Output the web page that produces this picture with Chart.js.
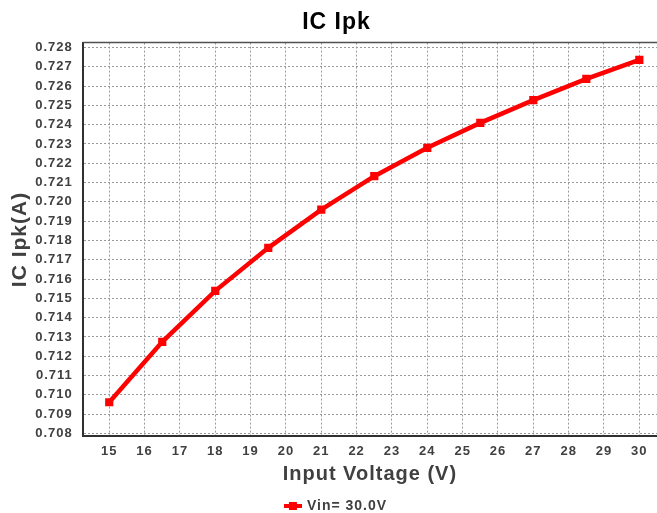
<!DOCTYPE html>
<html>
<head>
<meta charset="utf-8">
<script src="https://cdn.jsdelivr.net/npm/chart.js@4/dist/chart.umd.min.js"></script>
<style>
  html, body { margin: 0; padding: 0; background: #fff; }
  #wrap { width: 657px; height: 513px; }
</style>
</head>
<body>
<div id="wrap"><canvas id="c" width="657" height="513"></canvas></div>
<script>
// values
const inputVoltage = [15, 16.5, 18, 19.5, 21, 22.5, 24, 25.5, 27, 28.5, 30];
const icIpk = [0.70962, 0.71275, 0.71539, 0.71762, 0.71960, 0.72133, 0.72280, 0.72409, 0.72527, 0.72637, 0.72735];
const xTicks = [15, 16, 17, 18, 19, 20, 21, 22, 23, 24, 25, 26, 27, 28, 29, 30];
const yTicks = [0.708, 0.709, 0.710, 0.711, 0.712, 0.713, 0.714, 0.715, 0.716, 0.717, 0.718,
  0.719, 0.720, 0.721, 0.722, 0.723, 0.724, 0.725, 0.726, 0.727, 0.728];
const seriesLabel = 'Vin= 30.0V';

const TEXT_GREY = '#404040';
const GRID_GREY = '#9a9a9a';

// legend swatch: short red line with a square marker
function makeSwatch() {
  const c = document.createElement('canvas');
  c.width = 18;
  c.height = 8;
  const g = c.getContext('2d');
  g.fillStyle = '#ff0000';
  g.fillRect(0, 2, 18, 4);
  g.fillRect(5, 0, 8, 8);
  return c;
}

const spacingPlugin = {
  id: 'spacing',
  beforeUpdate(chart) { chart.ctx.letterSpacing = '1px'; },
  beforeDraw(chart) { chart.ctx.letterSpacing = '1px'; }
};

// nudge title and legend to where the reference has them
const shiftPlugin = {
  id: 'shift',
  afterLayout(chart) {
    [chart.titleBlock, chart.legend].forEach(b => {
      if (b) { b.left += 4; b.right += 4; }
    });
    if (chart.legend) { chart.legend.top += 10; chart.legend.bottom += 10; }
  }
};

const topBorderPlugin = {
  id: 'topBorder',
  afterDatasetsDraw(chart) {
    const { ctx, chartArea } = chart;
    ctx.save();
    ctx.strokeStyle = '#505050';
    ctx.lineWidth = 1.5;
    ctx.beginPath();
    ctx.moveTo(chartArea.left, chartArea.top);
    ctx.lineTo(chartArea.right, chartArea.top);
    ctx.stroke();
    ctx.restore();
  }
};

const gridConfig = {
  color: GRID_GREY,
  lineWidth: 1,
  drawTicks: false
};

// border.dash styles the grid lines; the axis line itself stays solid
const borderConfig = {
  display: true,
  color: '#303030',
  width: 2,
  dash: [2, 2]
};

new Chart(document.getElementById('c'), {
  type: 'line',
  data: {
    datasets: [{
      label: seriesLabel,
      data: inputVoltage.map((v, i) => ({ x: v, y: icIpk[i] })),
      borderColor: '#ff0000',
      backgroundColor: '#ff0000',
      borderWidth: 4.5,
      pointStyle: 'rect',
      pointRadius: 5.8,
      pointHoverRadius: 5.8,
      pointBorderWidth: 0,
      tension: 0,
      fill: false
    }]
  },
  options: {
    responsive: false,
    animation: false,
    layout: { autoPadding: false, padding: { left: 8, right: 0, top: 0, bottom: 0 } },
    scales: {
      x: {
        type: 'linear',
        min: 14.25,
        max: 30.5,
        afterBuildTicks: (scale) => { scale.ticks = xTicks.map(v => ({ value: v })); },
        afterFit: (scale) => { scale.paddingRight = 0; },
        ticks: {
          color: TEXT_GREY,
          font: { family: 'Liberation Sans', size: 13, weight: 'bold' },
          padding: 7,
          maxRotation: 0,
          autoSkip: false
        },
        grid: gridConfig,
        border: borderConfig,
        title: {
          display: true,
          text: 'Input Voltage (V)',
          color: TEXT_GREY,
          font: { family: 'Liberation Sans', size: 20, weight: 'bold' },
          padding: { top: -4, bottom: 1 }
        }
      },
      y: {
        type: 'linear',
        min: 0.70785,
        max: 0.72825,
        afterBuildTicks: (scale) => { scale.ticks = yTicks.map(v => ({ value: v })); },
        afterFit: (scale) => { scale.width -= 8; },
        ticks: {
          color: TEXT_GREY,
          font: { family: 'Liberation Sans', size: 13, weight: 'bold' },
          padding: 10,
          autoSkip: false,
          callback: (v) => v.toFixed(3)
        },
        grid: gridConfig,
        border: borderConfig,
        title: {
          display: true,
          text: 'IC Ipk(A)',
          color: TEXT_GREY,
          font: { family: 'Liberation Sans', size: 21, weight: 'bold' },
          padding: { top: 0, bottom: 0 }
        }
      }
    },
    plugins: {
      title: {
        display: true,
        text: 'IC Ipk',
        color: '#000000',
        font: { family: 'Liberation Sans', size: 23, weight: 'bold' },
        padding: { top: 9, bottom: 6 }
      },
      legend: {
        display: true,
        position: 'bottom',
        labels: {
          color: TEXT_GREY,
          font: { family: 'Liberation Sans', size: 14, weight: 'bold' },
          usePointStyle: true,
          pointStyle: makeSwatch(),
          pointStyleWidth: 14,
          padding: 2
        }
      },
      tooltip: { enabled: false }
    }
  },
  plugins: [spacingPlugin, shiftPlugin, topBorderPlugin]
});
</script>
</body>
</html>
